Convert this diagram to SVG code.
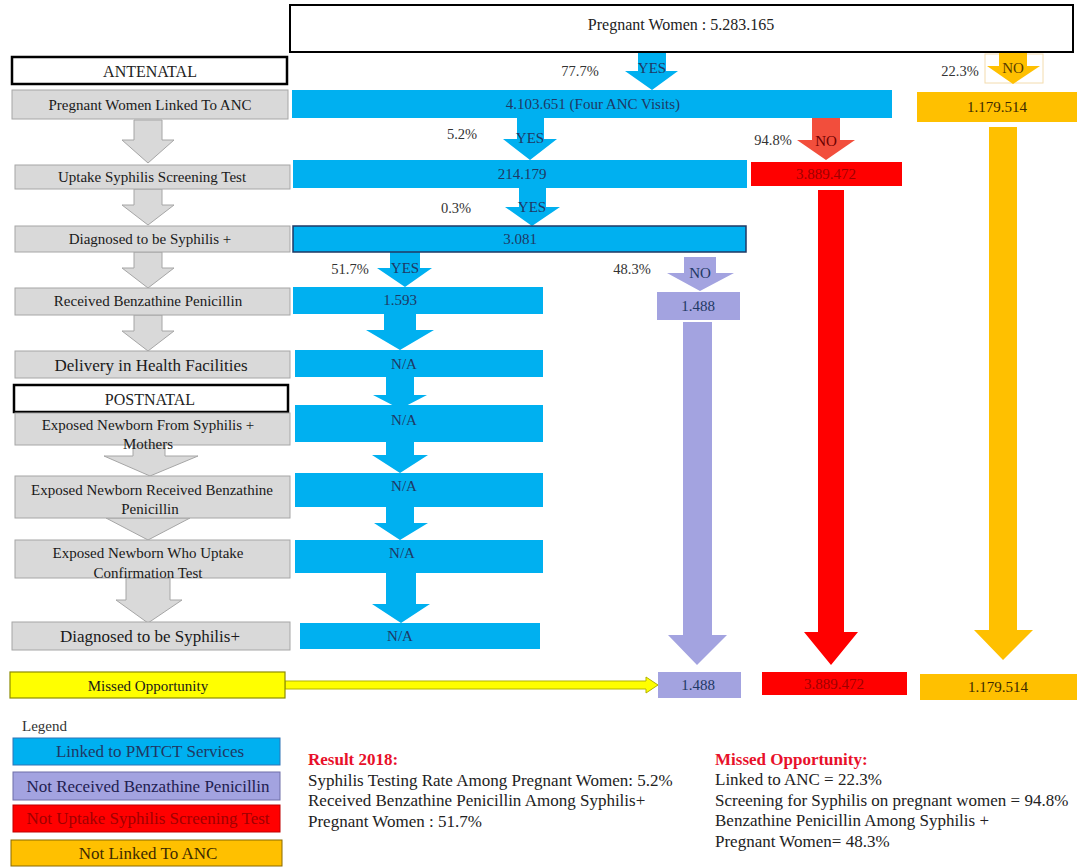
<svg xmlns="http://www.w3.org/2000/svg" width="1077" height="867" viewBox="0 0 1077 867">
<style>
text{font-family:"Liberation Serif","Times New Roman",serif;}
.c{text-anchor:middle;}
.gbox{fill:#d9d9d9;stroke:#a6a6a6;stroke-width:1;}
.hdr{fill:#ffffff;stroke:#000000;stroke-width:2.5;}
.gl{font-size:15px;fill:#1a1a1a;}
.gl16{font-size:17px;fill:#1a1a1a;}
.blue{fill:#00b0f0;}
.purp{fill:#a3a3e0;}
.red{fill:#ff0000;}
.org{fill:#ffc000;}
.ga{fill:#d9d9d9;stroke:#a6a6a6;stroke-width:1;}
.bl{font-size:15px;fill:#1f3864;}
.pct{font-size:14.5px;fill:#333333;}
.redtxt{font-size:15px;fill:#a00000;}
.body{font-size:17px;fill:#222222;}
.ttl{font-size:17px;font-weight:bold;fill:#e8102a;}
.lg{font-size:17px;}
</style>

<g id="connectors">
  <!-- gray stage arrows -->
  <path class="ga" d="M134,120 L162,120 L162,140 L174,140 L148,163 L122,140 L134,140 Z"/>
  <path class="ga" d="M134,189 L162,189 L162,205 L174,205 L148,225 L122,205 L134,205 Z"/>
  <path class="ga" d="M134,252 L162,252 L162,268 L174,268 L148,288 L122,268 L134,268 Z"/>
  <path class="ga" d="M134,315 L162,315 L162,331 L174,331 L148,351 L122,331 L134,331 Z"/>
  <path class="ga" d="M133,445 L165,445 L165,456 L198,456 L150,476 L104,456 L133,456 Z"/>
  <path class="ga" d="M106,518 L190,518 L148,540 Z"/>
  <path class="ga" d="M126,578 L170,578 L170,600 L182,600 L148,623 L116,600 L126,600 Z"/>

  <!-- blue YES arrows -->
  <path class="blue" d="M638,52 L666,52 L666,71 L678,71 L652,90 L625,71 L638,71 Z"/>
  <path class="blue" d="M517,118 L544,118 L544,139 L557,139 L530,160 L503,139 L517,139 Z"/>
  <path class="blue" d="M519,188 L546,188 L546,207 L560,207 L532,226 L505,207 L519,207 Z"/>
  <path class="blue" d="M390,252 L420,252 L420,268 L432,268 L405,287 L377,268 L390,268 Z"/>
  <path class="blue" d="M384,314 L416,314 L416,330 L434,330 L400,350 L366,330 L384,330 Z"/>
  <path class="blue" d="M386,377 L414,377 L414,395 L427,395 L400,409 L373,395 L386,395 Z"/>
  <path class="blue" d="M386,442 L414,442 L414,455 L428,455 L400,473 L372,455 L386,455 Z"/>
  <path class="blue" d="M386,507 L414,507 L414,523 L428,523 L400,540 L374,523 L386,523 Z"/>
  <path class="blue" d="M386,573 L416,573 L416,604 L430,604 L401,623 L372,604 L386,604 Z"/>

  <!-- orange NO arrow -->
  <rect x="985" y="54" width="58" height="29" fill="none" stroke="#f3dcae" stroke-width="1"/>
  <path class="org" d="M999,52 L1027,52 L1027,66 L1040,66 L1013,84 L987,66 L999,66 Z"/>
  <!-- red NO arrow -->
  <path fill="#f24e3c" d="M812,118 L840,118 L840,140 L855,140 L826,160 L797,140 L812,140 Z"/>
  <!-- purple NO arrow -->
  <path class="purp" d="M684,257 L716,257 L716,273 L734,273 L700,291 L667,273 L684,273 Z"/>

  <!-- long vertical arrows -->
  <path class="purp" d="M683,322 L712,322 L712,635 L727,635 L697,665 L668,635 L683,635 Z"/>
  <path class="red" d="M818,190 L844,190 L844,632 L858,632 L831,665 L804,632 L818,632 Z"/>
  <path class="org" d="M989,127 L1017,127 L1017,630 L1033,630 L1003,660 L974,630 L989,630 Z"/>

  <!-- yellow missed-opportunity arrow -->
  <path fill="#ffff00" stroke="#b3b300" stroke-width="1" d="M285,681 L646,681 L646,677 L658,685 L646,693 L646,689 L285,689 Z"/>

  <!-- arrow labels -->
  <text class="bl c" x="652" y="73">YES</text>
  <text class="bl c" x="530" y="143">YES</text>
  <text class="bl c" x="532" y="212">YES</text>
  <text class="bl c" x="405" y="273">YES</text>
  <text class="c" x="826" y="146" style="font-size:15px;fill:#6b0000">NO</text>
  <text class="c" x="1013" y="73" style="font-size:15px;fill:#5a3d00">NO</text>
  <text class="bl c" x="700" y="278">NO</text>

  <text class="pct c" x="580" y="76">77.7%</text>
  <text class="pct c" x="960" y="76">22.3%</text>
  <text class="pct c" x="462" y="139">5.2%</text>
  <text class="pct c" x="773" y="145">94.8%</text>
  <text class="pct c" x="456" y="213">0.3%</text>
  <text class="pct c" x="350" y="274">51.7%</text>
  <text class="pct c" x="632" y="274">48.3%</text>
</g>

<g id="n-total">
  <rect x="290" y="5" width="783" height="47" fill="#ffffff" stroke="#000000" stroke-width="2"/>
  <text class="c" x="681" y="30" style="font-size:16px;fill:#222222">Pregnant Women : 5.283.165</text>
</g>

<g id="n-antenatal">
  <rect class="hdr" x="12" y="57" width="275" height="27"/>
  <text class="c" x="150" y="77" style="font-size:16px;fill:#222222">ANTENATAL</text>
</g>
<g id="n-stage1">
  <rect class="gbox" x="12" y="90" width="276" height="29"/>
  <text class="gl c" x="150" y="110">Pregnant Women Linked To ANC</text>
</g>
<g id="n-stage2">
  <rect class="gbox" x="15" y="165" width="275" height="24"/>
  <text class="gl c" x="152" y="182">Uptake Syphilis Screening Test</text>
</g>
<g id="n-stage3">
  <rect class="gbox" x="15" y="226" width="275" height="26"/>
  <text class="gl c" x="150" y="244">Diagnosed to be Syphilis +</text>
</g>
<g id="n-stage4">
  <rect class="gbox" x="15" y="288" width="275" height="27"/>
  <text class="gl c" x="148" y="306">Received Benzathine Penicillin</text>
</g>
<g id="n-stage5">
  <rect class="gbox" x="15" y="351" width="275" height="27"/>
  <text class="gl16 c" x="151" y="371">Delivery in Health Facilities</text>
</g>
<g id="n-postnatal">
  <rect class="hdr" x="14" y="385" width="274" height="27"/>
  <text class="c" x="150" y="405" style="font-size:16px;fill:#222222">POSTNATAL</text>
</g>
<g id="n-stage6">
  <rect class="gbox" x="15" y="413" width="275" height="32"/>
  <text class="gl c" x="148" y="430">Exposed Newborn From Syphilis +</text>
  <text class="gl c" x="148" y="449">Mothers</text>
</g>
<g id="n-stage7">
  <rect class="gbox" x="15" y="476" width="275" height="42"/>
  <text class="gl c" x="152" y="495">Exposed Newborn Received Benzathine</text>
  <text class="gl c" x="150" y="514">Penicillin</text>
</g>
<g id="n-stage8">
  <rect class="gbox" x="15" y="540" width="275" height="38"/>
  <text class="gl c" x="148" y="558">Exposed Newborn Who Uptake</text>
  <text class="gl c" x="148" y="578">Confirmation Test</text>
</g>
<g id="n-stage9">
  <rect class="gbox" x="12" y="622" width="278" height="28"/>
  <text class="gl16 c" x="150" y="642">Diagnosed to be Syphilis+</text>
</g>
<g id="n-missed">
  <rect x="10" y="672" width="275" height="26" fill="#ffff00" stroke="#8c8c00" stroke-width="1.2"/>
  <text class="gl c" x="148" y="691">Missed Opportunity</text>
</g>

<g id="n-anc">
  <rect class="blue" x="292" y="90" width="600" height="28"/>
  <text class="bl c" x="593" y="109">4.103.651 (Four ANC Visits)</text>
</g>
<g id="n-notanc">
  <rect class="org" x="917" y="92" width="160" height="30"/>
  <text class="c" x="997" y="112" style="font-size:15px;fill:#3d2a00">1.179.514</text>
</g>
<g id="n-screen">
  <rect class="blue" x="293" y="160" width="454" height="28"/>
  <text class="bl c" x="522" y="179">214.179</text>
</g>
<g id="n-noscreen">
  <rect class="red" x="751" y="162" width="151" height="24"/>
  <text class="redtxt c" x="826" y="179">3.889.472</text>
</g>
<g id="n-diag">
  <rect class="blue" x="293" y="226" width="453" height="26" stroke="#1f3864" stroke-width="1.5"/>
  <text class="bl c" x="520" y="244">3.081</text>
</g>
<g id="n-bpg">
  <rect class="blue" x="293" y="287" width="250" height="27"/>
  <text class="bl c" x="400" y="305">1.593</text>
</g>
<g id="n-nobpg">
  <rect class="purp" x="657" y="292" width="83" height="28"/>
  <text class="bl c" x="698" y="311">1.488</text>
</g>
<g id="n-na1">
  <rect class="blue" x="295" y="350" width="248" height="27"/>
  <text class="bl c" x="404" y="369">N/A</text>
</g>
<g id="n-na2">
  <rect class="blue" x="295" y="405" width="248" height="37"/>
  <text class="bl c" x="404" y="425">N/A</text>
</g>
<g id="n-na3">
  <rect class="blue" x="295" y="473" width="248" height="34"/>
  <text class="bl c" x="404" y="491">N/A</text>
</g>
<g id="n-na4">
  <rect class="blue" x="295" y="540" width="248" height="33"/>
  <text class="bl c" x="402" y="558">N/A</text>
</g>
<g id="n-na5">
  <rect class="blue" x="300" y="623" width="240" height="26"/>
  <text class="bl c" x="400" y="641">N/A</text>
</g>
<g id="n-miss-bpg">
  <rect class="purp" x="658" y="672" width="83" height="26"/>
  <text class="bl c" x="698" y="690">1.488</text>
</g>
<g id="n-miss-screen">
  <rect class="red" x="762" y="672" width="145" height="23"/>
  <text class="redtxt c" x="834" y="689">3.889.472</text>
</g>
<g id="n-miss-anc">
  <rect class="org" x="920" y="674" width="157" height="26"/>
  <text class="c" x="998" y="692" style="font-size:15px;fill:#3d2a00">1.179.514</text>
</g>

<g id="legend">
  <text x="22" y="731" style="font-size:15px;fill:#333333">Legend</text>
  <rect class="blue" x="13" y="738" width="267" height="27" stroke="#2e75b6" stroke-width="1"/>
  <text class="lg c" x="150" y="757" style="fill:#1f3864">Linked to PMTCT Services</text>
  <rect class="purp" x="13" y="772" width="267" height="28" stroke="#6f6fa8" stroke-width="1"/>
  <text class="lg c" x="148" y="792" style="fill:#1f2050">Not Received Benzathine Penicillin</text>
  <rect class="red" x="13" y="805" width="267" height="27" stroke="#c00000" stroke-width="1"/>
  <text class="lg c" x="148" y="824" style="fill:#a00000">Not Uptake Syphilis Screening Test</text>
  <rect class="org" x="11" y="840" width="271" height="26" stroke="#8a6a00" stroke-width="1"/>
  <text class="lg c" x="148" y="859" style="fill:#3d2a00">Not Linked To ANC</text>
</g>

<g id="result">
  <text class="ttl" x="308" y="765">Result 2018:</text>
  <text class="body" x="308" y="786">Syphilis Testing Rate Among Pregnant Women: 5.2%</text>
  <text class="body" x="308" y="806">Received Benzathine Penicillin Among Syphilis+</text>
  <text class="body" x="308" y="827">Pregnant Women : 51.7%</text>
</g>

<g id="missed-summary">
  <text class="ttl" x="715" y="765">Missed Opportunity:</text>
  <text class="body" x="715" y="785">Linked to ANC = 22.3%</text>
  <text class="body" x="715" y="806">Screening for Syphilis on pregnant women = 94.8%</text>
  <text class="body" x="715" y="826">Benzathine Penicillin Among Syphilis +</text>
  <text class="body" x="715" y="847">Pregnant Women= 48.3%</text>
</g>
</svg>
